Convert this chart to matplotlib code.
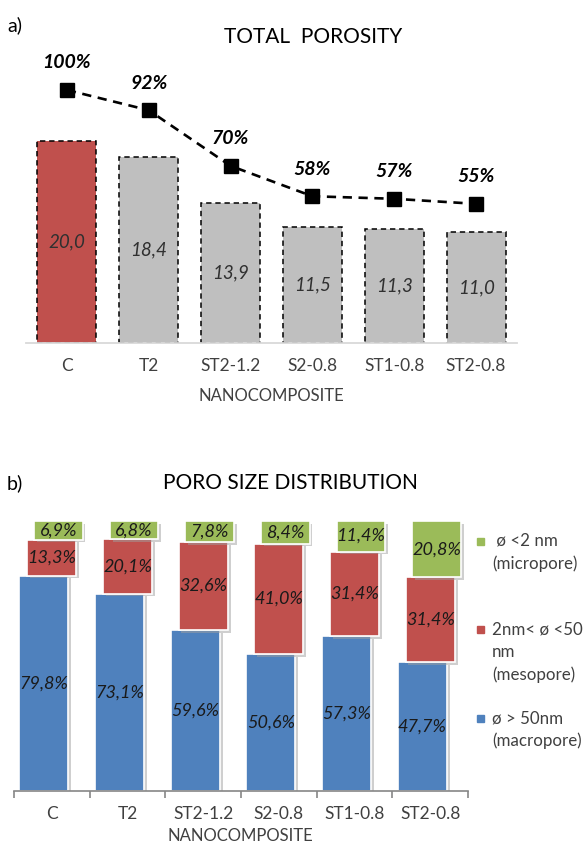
import matplotlib
matplotlib.use("Agg")
import matplotlib.pyplot as plt
import matplotlib.patheffects as pe
from matplotlib.patches import Rectangle
import numpy as np

plt.rcParams['font.family'] = ['Lato', 'DejaVu Sans']

# dati
samples = ["C", "T2", "ST2-1.2", "S2-0.8", "ST1-0.8", "ST2-0.8"]
total_porosity = [20.0, 18.4, 13.9, 11.5, 11.3, 11.0]
relative_pct = [100, 92, 70, 58, 57, 55]

macro = [79.8, 73.1, 59.6, 50.6, 57.3, 47.7]
meso = [13.3, 20.1, 32.6, 41.0, 31.4, 31.4]
micro = [6.9, 6.8, 7.8, 8.4, 11.4, 20.8]

RED = "#C0504D"
GRAY = "#BFBFBF"
BLUE = "#4F81BD"
GREEN = "#9BBB59"

W, H = 585, 847
fig = plt.figure(figsize=(W / 100, H / 100), dpi=100)

def fx(px):
    return px / W

def fy(px):
    return 1 - px / H

def it(v):
    return f"{v:.1f}".replace(".", ",")

# ---- a) TOTAL POROSITY
ax1 = fig.add_axes([fx(26), fy(343), fx(491), 283 / H])
x = np.arange(len(samples))
colors = [RED] + [GRAY] * (len(samples) - 1)
ax1.bar(x, total_porosity, width=0.72, color=colors, edgecolor="black",
        linewidth=1.1, linestyle=(0, (3.5, 2.5)))
for xi, v in zip(x, total_porosity):
    ax1.text(xi, v / 2, it(v), ha="center", va="center", style="italic",
             fontsize=13.5, color="#303030")
ax1.set_xlim(-0.5, len(samples) - 0.5)
ax1.set_ylim(0, 283 / 10.1)
for s in ["top", "right", "left"]:
    ax1.spines[s].set_visible(False)
ax1.spines["bottom"].set_color("#D9D9D9")
ax1.spines["bottom"].set_linewidth(1.3)
ax1.set_yticks([])
ax1.set_xticks(x)
ax1.set_xticklabels(samples, fontsize=12.5, color="#404040")
ax1.tick_params(axis="x", length=0, pad=11)

ax1b = ax1.twinx()
ax1b.plot(x, relative_pct, color="black", linestyle=(0, (3.5, 2.5)), linewidth=1.9,
          marker="s", markersize=9.5)
for xi, v in zip(x, relative_pct):
    ax1b.annotate(f"{v}%", (xi, v), xytext=(0, 19.5), textcoords="offset points",
                  ha="center", va="center", fontsize=14, fontweight="bold",
                  style="italic")
ax1b.set_ylim(0, 283 / 2.53)
ax1b.set_yticks([])
for s in ["top", "right", "left", "bottom"]:
    ax1b.spines[s].set_visible(False)

fig.text(fx(7), fy(25), "a)", fontsize=14, va="center", ha="left")
fig.text(fx(313), fy(37), "TOTAL  POROSITY", fontsize=15, va="center", ha="center")
fig.text(fx(271), fy(396), "NANOCOMPOSITE", fontsize=12, va="center", ha="center",
         color="#404040")

# ---- b) PORO SIZE DISTRIBUTION
ax2 = fig.add_axes([fx(14), fy(791), fx(454), 275.4 / H])
shadow = [pe.SimplePatchShadow(offset=(2, -2), shadow_rgbFace="#A0A0A0", alpha=0.5),
          pe.Normal()]
off_macro, off_meso, off_micro = -0.106, 0.0, 0.086
ax2.bar(x + off_macro, macro, width=0.65, color=BLUE, edgecolor="white",
        linewidth=1.2, path_effects=shadow)
ax2.bar(x + off_meso, meso, width=0.65, bottom=macro, color=RED, edgecolor="white",
        linewidth=1.2, path_effects=shadow)
bottom_micro = [a + b for a, b in zip(macro, meso)]
ax2.bar(x + off_micro, micro, width=0.64, bottom=bottom_micro, color=GREEN,
        edgecolor="white", linewidth=1.2, path_effects=shadow)
for i in range(len(samples)):
    ax2.text(x[i] + off_macro, macro[i] / 2, it(macro[i]) + "%", ha="center",
             va="center", style="italic", fontsize=13, color="#1a1a1a")
    ax2.text(x[i] + off_meso, macro[i] + meso[i] / 2, it(meso[i]) + "%", ha="center",
             va="center", style="italic", fontsize=13, color="#1a1a1a")
    ax2.text(x[i] + off_micro, bottom_micro[i] + micro[i] / 2, it(micro[i]) + "%",
             ha="center", va="center", style="italic", fontsize=13, color="#1a1a1a")
ax2.set_xlim(-0.5, len(samples) - 0.5)
ax2.set_ylim(0, 102)
for s in ["top", "right", "left"]:
    ax2.spines[s].set_visible(False)
ax2.spines["bottom"].set_color("#868686")
ax2.spines["bottom"].set_linewidth(1.2)
ax2.set_yticks([])
ax2.set_xticks(x)
ax2.set_xticklabels(samples, fontsize=12.5, color="#404040")
ax2.set_xticks(np.arange(-0.5, len(samples)), minor=True)
ax2.tick_params(axis="x", which="major", length=0, pad=11)
ax2.tick_params(axis="x", which="minor", length=5, width=1.2, color="#868686")

fig.text(fx(7), fy(483), "b)", fontsize=14, va="center", ha="left")
fig.text(fx(290), fy(483), "PORO SIZE DISTRIBUTION", fontsize=15, va="center",
         ha="center")
fig.text(fx(240), fy(836), "NANOCOMPOSITE", fontsize=12, va="center", ha="center",
         color="#404040")

# legenda
legend_items = [
    (GREEN, 541, [" ø <2 nm", "(micropore)"]),
    (RED, 629, ["2nm< ø <50", "nm", "(mesopore)"]),
    (BLUE, 718, ["ø > 50nm", "(macropore)"]),
]
for col, ypx, lines in legend_items:
    fig.add_artist(Rectangle((fx(477), fy(ypx + 3.5)), fx(7), 7 / H,
                             transform=fig.transFigure, color=col))
    for k, line in enumerate(lines):
        fig.text(fx(492), fy(ypx + k * 23), line, fontsize=12.2, va="center",
                 ha="left", color="#404040")

fig.savefig("out.png", dpi=100)
